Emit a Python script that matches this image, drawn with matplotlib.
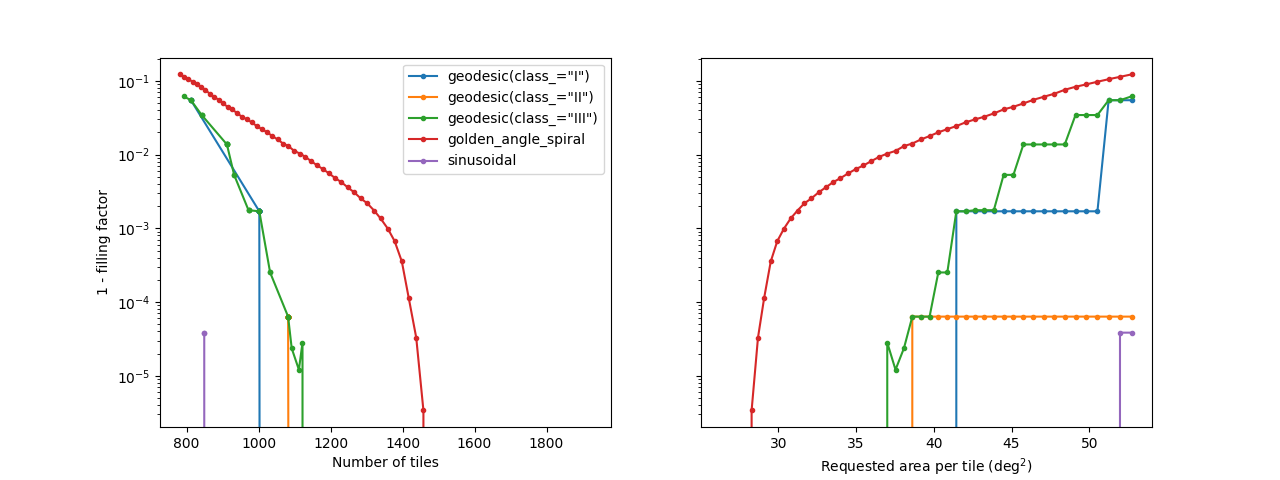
import matplotlib
matplotlib.use("Agg")
import matplotlib.pyplot as plt

# requested area per tile (deg^2), shared by every method
area = [26.36, 26.74, 27.12, 27.50, 27.89, 28.29, 28.70, 29.10, 29.52, 29.94,
        30.37, 30.80, 31.24, 31.68, 32.13, 32.59, 33.05, 33.53, 34.00, 34.49,
        34.98, 35.48, 35.98, 36.49, 37.01, 37.54, 38.08, 38.62, 39.17, 39.73,
        40.29, 40.87, 41.45, 42.04, 42.64, 43.24, 43.86, 44.49, 45.12, 45.76,
        46.41, 47.07, 47.75, 48.42, 49.11, 49.81, 50.52, 51.24, 51.97, 52.71]

labels = ['geodesic(class_="I")', 'geodesic(class_="II")',
          'geodesic(class_="III")', 'golden_angle_spiral', 'sinusoidal']

# number of tiles actually produced for each requested area
tiles_geo1 = [1692] * 6 + [1442] * 13 + [1212] * 13 + [1002] * 15 + [812] * 3
tiles_geo2 = [1922] * 5 + [1472] * 22 + [1082] * 23
tiles_geo3 = [1572, 1562, 1562, 1512, 1482, 1472, 1472, 1472, 1472, 1392,
              1392, 1392, 1332, 1332, 1292, 1272, 1272, 1242, 1242, 1242,
              1242, 1172, 1172, 1172, 1122, 1112, 1092, 1082, 1082, 1082,
              1032, 1032, 1002, 1002, 972, 972, 972, 932, 932, 912,
              912, 912, 912, 912, 842, 842, 842, 812, 812, 792]
tiles_spiral = [1565, 1543, 1521, 1500, 1479, 1458, 1438, 1417, 1398, 1378,
                1359, 1339, 1321, 1302, 1284, 1266, 1248, 1230, 1213, 1196,
                1179, 1163, 1146, 1130, 1115, 1099, 1083, 1068, 1053, 1038,
                1024, 1009, 995, 981, 968, 954, 941, 927, 914, 901,
                889, 876, 864, 852, 840, 828, 817, 805, 794, 783]
tiles_sinus = [1698, 1674, 1650, 1628, 1605, 1582, 1560, 1537, 1517, 1495,
               1474, 1453, 1433, 1413, 1393, 1374, 1354, 1335, 1316, 1298,
               1279, 1262, 1243, 1226, 1210, 1192, 1175, 1159, 1142, 1126,
               1111, 1095, 1080, 1064, 1050, 1035, 1021, 1006, 992, 978,
               965, 950, 937, 924, 911, 898, 886, 873, 849, 849]

# 1 - filling factor (0 = sky fully covered, drawn as a drop to the axis)
fill_geo1 = [0.0] * 32 + [1.7e-3] * 15 + [5.45e-2] * 3
fill_geo2 = [0.0] * 27 + [6.35e-5] * 23
fill_geo3 = ([0.0] * 24 + [2.82e-5, 1.21e-5, 2.36e-5] + [6.35e-5] * 3
             + [2.52e-4] * 2 + [1.70e-3] * 2 + [1.76e-3] * 3 + [5.3e-3] * 2
             + [1.37e-2] * 5 + [3.43e-2] * 3 + [5.45e-2] * 2 + [6.14e-2])
fill_spiral = [0.0, 0.0, 0.0, 0.0, 0.0,
               3.4e-6, 3.3e-5, 1.15e-4, 3.55e-4, 6.7e-4,
               9.9e-4, 1.36e-3, 1.74e-3, 2.18e-3, 2.54e-3,
               3.06e-3, 3.58e-3, 4.22e-3, 4.78e-3, 5.54e-3,
               6.34e-3, 7.11e-3, 8.13e-3, 9.30e-3, 1.03e-2,
               1.12e-2, 1.30e-2, 1.41e-2, 1.60e-2, 1.78e-2,
               2.00e-2, 2.21e-2, 2.43e-2, 2.73e-2, 2.99e-2,
               3.25e-2, 3.61e-2, 4.09e-2, 4.44e-2, 4.93e-2,
               5.52e-2, 6.07e-2, 6.67e-2, 7.55e-2, 8.29e-2,
               8.94e-2, 9.7e-2, 0.105, 0.113, 0.122]
fill_sinus = [0.0] * 48 + [3.85e-5] * 2

tiles = [tiles_geo1, tiles_geo2, tiles_geo3, tiles_spiral, tiles_sinus]
fills = [fill_geo1, fill_geo2, fill_geo3, fill_spiral, fill_sinus]

fig, (ax1, ax2) = plt.subplots(1, 2, sharey=True, figsize=(12.8, 4.8))
ax1.set_yscale('log')

for label, n, f in zip(labels, tiles, fills):
    ax1.plot(n, f, '.-', label=label)
    ax2.plot(area, f, '.-', label=label)

ax1.set_xlabel('Number of tiles')
ax1.set_ylabel('1 - filling factor')
ax1.legend(loc='upper right')
ax2.set_xlabel('Requested area per tile (deg$^2$)')

fig.savefig('out.png', dpi=100)
